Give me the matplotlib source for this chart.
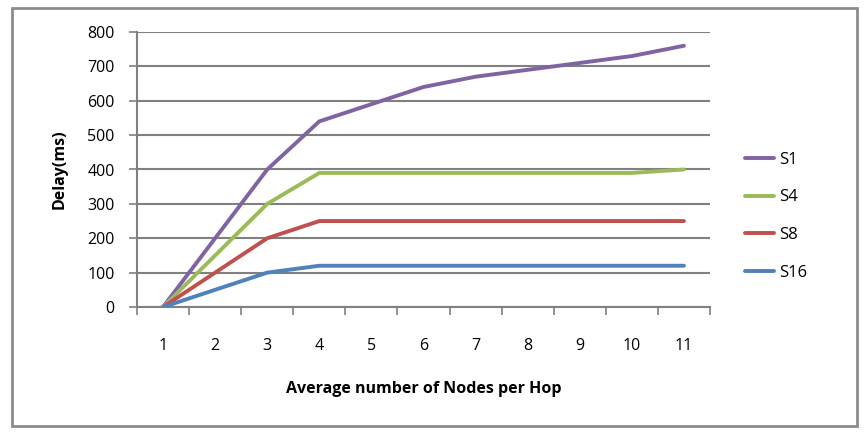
import matplotlib
matplotlib.use("Agg")
import matplotlib.pyplot as plt
from matplotlib.patches import Rectangle

categories = [1, 2, 3, 4, 5, 6, 7, 8, 9, 10, 11]
s1 = [0, 200, 400, 540, 590, 640, 670, 690, 710, 730, 760]
s4 = [0, 150, 300, 390, 390, 390, 390, 390, 390, 390, 400]
s8 = [0, 100, 200, 250, 250, 250, 250, 250, 250, 250, 250]
s16 = [0, 50, 100, 120, 120, 120, 120, 120, 120, 120, 120]
series_names = ["S1", "S4", "S8", "S16"]
colors = ["#8064A2", "#9BBB59", "#C0504D", "#4F81BD"]
yticks = [0, 100, 200, 300, 400, 500, 600, 700, 800]

plt.rcParams['font.family'] = ['Open Sans', 'DejaVu Sans']

fig = plt.figure(figsize=(8.67, 4.36), dpi=100)
ax = fig.add_axes([137/867, 1-307/436, (710-137)/867, (307-32)/436])

xs = list(range(len(categories)))
for name, vals, c in zip(series_names, [s1, s4, s8, s16], colors):
    ax.plot(xs, vals, color=c, lw=2.8, label=name, solid_capstyle='round', zorder=3)

ax.set_xlim(-0.5, len(categories) - 0.5)
ax.set_ylim(0, 800)
ax.set_yticks(yticks)
ax.set_yticklabels([str(v) for v in yticks], fontsize=11.5)
ax.set_xticks(xs)
ax.set_xticklabels([str(c) for c in categories], fontsize=11.5)
ax.set_xticks([x - 0.5 for x in range(len(categories) + 1)], minor=True)
ax.tick_params(axis='x', which='major', length=0, pad=22)
ax.tick_params(axis='x', which='minor', length=6, color='#808080', width=1.2)
ax.tick_params(axis='y', length=6, color='#808080', width=1.2, pad=10)
ax.grid(axis='y', color='#808080', lw=1.5, zorder=1)
for s in ['top', 'right']:
    ax.spines[s].set_visible(False)
for s in ['left', 'bottom']:
    ax.spines[s].set_color('#808080')
    ax.spines[s].set_linewidth(1.5)

ax.set_xlabel("Average number of Nodes per Hop", fontsize=11.5, fontweight='bold', labelpad=20)
ax.set_ylabel("Delay(ms)", fontsize=11.5, fontweight='bold', labelpad=14)

leg = ax.legend(loc='center left', bbox_to_anchor=(1.035, 0.33), frameon=False,
                fontsize=12, handlelength=1.75, labelspacing=1.3, handletextpad=0.3)

fig.patches.append(Rectangle((12/867, 1-426/436), (857-12)/867, (426-8)/436,
                             transform=fig.transFigure, fill=False,
                             edgecolor='#8c8c8c', lw=2))

fig.savefig("out.png", dpi=100)
